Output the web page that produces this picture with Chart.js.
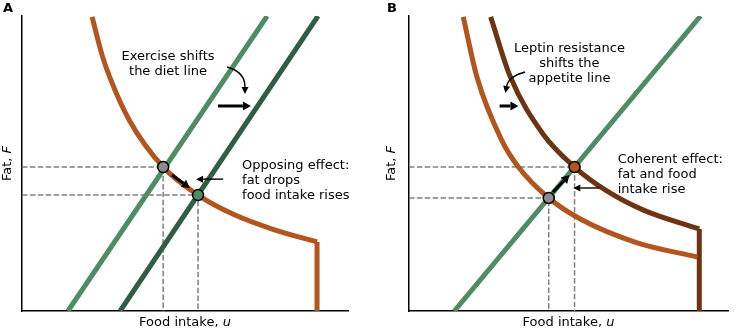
<!DOCTYPE html>
<html>
<head>
<meta charset="utf-8">
<script src="https://cdn.jsdelivr.net/npm/chart.js@4"></script>
<style>
  body { margin: 0; background: #fff; }
  #wrap { position: relative; width: 735px; height: 330px; }
  canvas { position: absolute; top: 0; }
</style>
</head>
<body>
<div id="wrap">
  <canvas id="chartA" width="367" height="330" style="left:0"></canvas>
  <canvas id="chartB" width="368" height="330" style="left:367px"></canvas>
</div>
<script>
// Model units: food intake u on x, fat F on y, both 0..10

// Panel A: exercise shifts the diet line
const appetiteA_u = [2.15, 2.45, 2.70, 3.30, 4.33, 5.40, 6.50, 7.70, 9.05];
const appetiteA_F = [9.97, 8.70, 7.90, 6.45, 4.88, 3.93, 3.27, 2.77, 2.34];
const dietA_u = [1.41, 7.52];
const dietShiftA_u = [3.01, 9.08];
const dietF = [0, 10];
const eqA_u = [4.33, 5.40];
const eqA_F = [4.88, 3.93];

// Panel B: leptin resistance shifts the appetite line
const appetiteB_u = [1.70, 2.13, 2.90, 3.43, 4.38, 5.40, 7.13, 9.04];
const appetiteB_F = [9.97, 7.93, 5.80, 4.88, 3.83, 3.10, 2.32, 1.83];
const resistB_u = [2.56, 3.18, 4.20, 5.19, 6.20, 7.35, 9.10];
const resistB_F = [9.97, 7.93, 6.00, 4.88, 4.07, 3.42, 2.78];
const dietB_u = [1.42, 9.14];
const eqB_u = [4.38, 5.19];
const eqB_F = [3.83, 4.88];

// annotations (u, F)
const arrowsA = [
  { from: [4.60, 4.61], to: [5.15, 4.17], thick: true },
  { from: [6.17, 4.47], to: [5.34, 4.47], thick: false },
  { from: [6.01, 6.95], to: [7.02, 6.95], thick: true }
];
const curvedA = { from: [6.29, 8.27], ctrl: [6.84, 8.10], to: [6.84, 7.36] };
const labelsA = [
  { at: [4.48, 8.61], lines: ['Exercise shifts', 'the diet line'], align: 'center' },
  { at: [6.75, 4.92], lines: ['Opposing effect:', 'fat drops', 'food intake rises'], align: 'left' }
];

const arrowsB = [
  { from: [4.51, 4.03], to: [5.03, 4.61], thick: true },
  { from: [5.96, 4.17], to: [5.15, 4.17], thick: false },
  { from: [2.84, 6.95], to: [3.43, 6.95], thick: true }
];
const curvedB = { from: [3.64, 8.10], ctrl: [3.12, 7.95], to: [3.02, 7.39] };
const labelsB = [
  { at: [5.03, 8.88], lines: ['Leptin resistance', 'shifts the', 'appetite line'], align: 'center' },
  { at: [6.54, 5.12], lines: ['Coherent effect:', 'fat and food', 'intake rise'], align: 'left' }
];

const ORANGE = '#b4541e';
const BROWN = '#6d3413';
const GREEN = '#4e8c64';
const DKGREEN = '#2f5e44';
const FONT = '"DejaVu Sans", sans-serif';

function pts(us, fs) {
  return us.map((u, i) => ({ x: u, y: fs[i] }));
}

function lineSet(data, color, order, extra) {
  return Object.assign({
    data: data, showLine: true, borderColor: color, borderWidth: 5,
    pointRadius: 0, fill: false, order: order
  }, extra || {});
}

function guideSet(u, f) {
  return {
    data: [{ x: 0, y: f }, { x: u, y: f }, { x: u, y: 0 }],
    showLine: true, borderColor: '#808080', borderWidth: 1.5,
    borderDash: [5.5, 2.4], pointRadius: 0, order: 20
  };
}

function eqSet(us, fs, colors) {
  return {
    data: pts(us, fs), showLine: false, pointRadius: 5.5,
    pointBackgroundColor: colors, pointBorderColor: '#000', pointBorderWidth: 1.5,
    order: 0
  };
}

function drawHead(ctx, x, y, ang, len, half) {
  const bx = x - len * Math.cos(ang), by = y - len * Math.sin(ang);
  ctx.beginPath();
  ctx.moveTo(x, y);
  ctx.lineTo(bx + half * Math.sin(ang), by - half * Math.cos(ang));
  ctx.lineTo(bx - half * Math.sin(ang), by + half * Math.cos(ang));
  ctx.closePath();
  ctx.fill();
  return [bx, by];
}

// plugin that draws arrows, labels and axis titles from the arrays above
const notes = {
  id: 'notes',
  afterDatasetsDraw(chart, args, o) {
    const { ctx, chartArea: a } = chart;
    const sx = chart.scales.x, sy = chart.scales.y;
    const P = p => [sx.getPixelForValue(p[0]), sy.getPixelForValue(p[1])];
    ctx.save();
    ctx.fillStyle = '#000';
    ctx.strokeStyle = '#000';
    ctx.lineCap = 'butt';

    o.arrows.forEach(ar => {
      const [x1, y1] = P(ar.from), [x2, y2] = P(ar.to);
      const ang = Math.atan2(y2 - y1, x2 - x1);
      const len = ar.thick ? 8 : 7, half = ar.thick ? 4.5 : 3.5;
      const [bx, by] = drawHead(ctx, x2, y2, ang, len, half);
      ctx.beginPath();
      ctx.moveTo(x1, y1);
      ctx.lineTo(bx, by);
      ctx.lineWidth = ar.thick ? 3 : 1.4;
      ctx.stroke();
    });

    const c = o.curved;
    const [cx1, cy1] = P(c.from), [cxc, cyc] = P(c.ctrl), [cx2, cy2] = P(c.to);
    const cang = Math.atan2(cy2 - cyc, cx2 - cxc);
    const [cbx, cby] = drawHead(ctx, cx2, cy2, cang, 7, 3.5);
    ctx.beginPath();
    ctx.moveTo(cx1, cy1);
    ctx.quadraticCurveTo(cxc, cyc, cbx, cby);
    ctx.lineWidth = 1.4;
    ctx.stroke();

    ctx.font = '13px ' + FONT;
    ctx.textBaseline = 'middle';
    o.labels.forEach(l => {
      const [x, y] = P(l.at);
      ctx.textAlign = l.align;
      l.lines.forEach((t, i) => ctx.fillText(t, x, y + i * 15));
    });

    // axis titles with italic symbol
    const titled = (x, y, rot, plain, sym) => {
      ctx.save();
      ctx.translate(x, y);
      ctx.rotate(rot);
      ctx.textAlign = 'left';
      ctx.font = '13px ' + FONT;
      const w1 = ctx.measureText(plain).width;
      ctx.font = 'italic 13px ' + FONT;
      const w2 = ctx.measureText(sym).width;
      const x0 = -(w1 + w2) / 2;
      ctx.font = '13px ' + FONT;
      ctx.fillText(plain, x0, 0);
      ctx.font = 'italic 13px ' + FONT;
      ctx.fillText(sym, x0 + w1, 0);
      ctx.restore();
    };
    titled((a.left + a.right) / 2, a.bottom + 12, 0, 'Food intake, ', 'u');
    titled(a.left - o.yTitleGap, (a.top + a.bottom) / 2, -Math.PI / 2, 'Fat, ', 'F');

    ctx.font = 'bold 13px ' + FONT;
    ctx.textAlign = 'left';
    ctx.fillText(o.letter, o.letterX, 9);
    ctx.restore();
  }
};

function scales() {
  const ax = {
    type: 'linear', min: 0, max: 10,
    ticks: { display: false },
    grid: { display: true, drawTicks: false, color: 'rgba(0,0,0,0)' },
    border: { display: true, color: '#000', width: 1.5 }
  };
  return { x: Object.assign({}, ax), y: JSON.parse(JSON.stringify(ax)) };
}

function makeChart(id, datasets, padding, noteOpts) {
  return new Chart(document.getElementById(id), {
    type: 'scatter',
    data: { datasets: datasets },
    options: {
      responsive: false, animation: false,
      layout: { padding: padding },
      scales: scales(),
      plugins: { legend: { display: false }, tooltip: { enabled: false }, notes: noteOpts }
    },
    plugins: [notes]
  });
}

makeChart('chartA', [
  eqSet(eqA_u, eqA_F, ['#8c8c8c', GREEN]),
  lineSet(pts(dietA_u, dietF), GREEN, 5),
  lineSet(pts(dietShiftA_u, dietF), DKGREEN, 5),
  lineSet(pts(appetiteA_u, appetiteA_F), ORANGE, 8, { cubicInterpolationMode: 'monotone' }),
  lineSet([{ x: appetiteA_u[appetiteA_u.length - 1], y: appetiteA_F[appetiteA_F.length - 1] },
           { x: appetiteA_u[appetiteA_u.length - 1], y: 0 }], ORANGE, 8),
  guideSet(eqA_u[0], eqA_F[0]),
  guideSet(eqA_u[1], eqA_F[1])
], { left: 22, top: 16, right: 19, bottom: 19 },
  { arrows: arrowsA, curved: curvedA, labels: labelsA, letter: 'A', letterX: 3, yTitleGap: 14 });

makeChart('chartB', [
  eqSet(eqB_u, eqB_F, ['#8c8c8c', ORANGE]),
  lineSet(pts(dietB_u, dietF), GREEN, 5),
  lineSet(pts(appetiteB_u, appetiteB_F), ORANGE, 8, { cubicInterpolationMode: 'monotone' }),
  lineSet(pts(resistB_u, resistB_F), BROWN, 8, { cubicInterpolationMode: 'monotone' }),
  lineSet([{ x: resistB_u[resistB_u.length - 1], y: resistB_F[resistB_F.length - 1] },
           { x: resistB_u[resistB_u.length - 1], y: 0 }], BROWN, 8),
  guideSet(eqB_u[0], eqB_F[0]),
  guideSet(eqB_u[1], eqB_F[1])
], { left: 42, top: 16, right: 2, bottom: 19 },
  { arrows: arrowsB, curved: curvedB, labels: labelsB, letter: 'B', letterX: 20, yTitleGap: 17 });
</script>
</body>
</html>
